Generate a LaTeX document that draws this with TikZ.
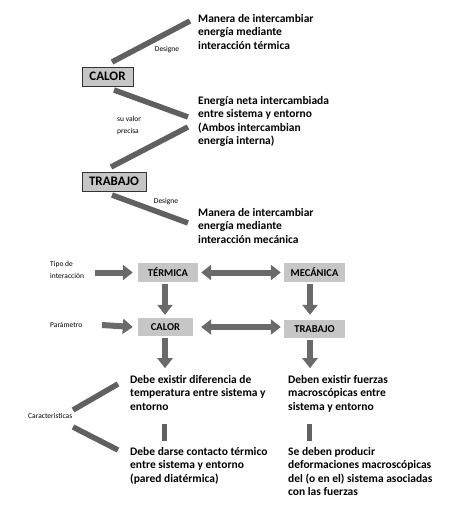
\documentclass[tikz,border=0pt]{standalone}
\usepackage{fontspec}
\setmainfont{Carlito}
\usetikzlibrary{arrows.meta}
\definecolor{lg}{HTML}{606060}
\definecolor{ag}{HTML}{6A6A6A}
\definecolor{bf}{HTML}{C6C6C6}
\tikzset{
  bar/.style={draw=lg,line width=5.5pt},
  txt/.style={anchor=north west,inner sep=0pt,align=left,font=\bfseries\fontsize{11.5}{13.5}\selectfont},
  lbl/.style={inner sep=0pt,align=left,font=\fontsize{7.5}{12}\selectfont},
  bigbox/.style={draw=black!80,fill=bf,line width=0.8pt,inner sep=0pt,font=\bfseries\fontsize{13}{15}\selectfont},
  gbox/.style={fill=bf,inner sep=0pt,font=\bfseries\fontsize{10.5}{12}\selectfont},
  arr/.style={draw=ag,line width=6pt,-{Triangle[width=15pt,length=10pt]}},
  darr/.style={draw=ag,line width=6pt,{Triangle[width=15pt,length=10pt]}-{Triangle[width=15pt,length=10pt]}},
}
\begin{document}
\begin{tikzpicture}[x=1pt,y=-1pt]
\useasboundingbox (0,0) rectangle (459,509);
% top part
\node[txt] (m1) at (198,14) {Manera de intercambiar\\energía mediante\\interacción térmica};
\node[bigbox,minimum width=51pt,minimum height=19pt] (calor1) at (107.5,76.5) {CALOR};
\node[lbl] (des1) at (167,50) {Designe};
\node[txt] (e1) at (198,96) {Energía neta intercambiada\\entre sistema y entorno\\(Ambos intercambian\\energía interna)};
\node[lbl,anchor=west] (suv) at (117,125) {su valor\\precisa};
\node[bigbox,minimum width=64pt,minimum height=19pt] (trab1) at (114,181.5) {TRABAJO};
\node[lbl] (des2) at (166,202) {Designe};
\node[txt] (m2) at (198,208) {Manera de intercambiar\\energía mediante\\interacción mecánica};
\coordinate (a1) at (112,62); \coordinate (b1) at (190,21);
\coordinate (a2) at (114,90); \coordinate (b2) at (188,117);
\coordinate (a3) at (188,127); \coordinate (b3) at (111,167);
\coordinate (a4) at (112,195); \coordinate (b4) at (188,223);
\draw[bar] (a1) -- (b1);
\draw[bar] (a2) -- (b2);
\draw[bar] (a3) -- (b3);
\draw[bar] (a4) -- (b4);
% lower part
\node[lbl,anchor=west] (tipo) at (50,270) {Tipo de\\interacción};
\node[gbox,minimum width=60pt,minimum height=19pt] (term) at (168,272.5) {TÉRMICA};
\node[gbox,minimum width=61pt,minimum height=19pt] (mec) at (314.5,272.5) {MECÁNICA};
\node[lbl,anchor=west] (par) at (50,325) {Parámetro};
\node[gbox,minimum width=55pt,minimum height=18pt] (calor2) at (165.5,327) {CALOR};
\node[gbox,minimum width=61pt,minimum height=18pt] (trab2) at (314.5,329) {TRABAJO};
\draw[arr] ([xshift=11pt]tipo.east |- term.west) -- ([xshift=-5pt]term.west);
\draw[arr] ([xshift=52pt]par.west) -- ([xshift=-5pt]calor2.west);
\draw[darr] ([xshift=3pt]term.east) -- ([xshift=-3pt]mec.west);
\draw[darr] ([xshift=8pt]calor2.east) -- ([xshift=-3pt]trab2.west |- calor2.east);
\draw[arr] ([xshift=-3pt,yshift=-2pt]term.south) -- ([xshift=-0.5pt,yshift=3pt]calor2.north);
\draw[arr] ([xshift=-4.5pt,yshift=-2pt]mec.south) -- ([xshift=-4.5pt,yshift=5pt]trab2.north);
\node[txt] (d1) at (130,375) {Debe existir diferencia de\\temperatura entre sistema y\\entorno};
\node[txt] (f1) at (288,375) {Deben existir fuerzas\\macroscópicas entre\\sistema y entorno};
\node[txt] (c1) at (130,447) {Debe darse contacto térmico\\entre sistema y entorno\\(pared diatérmica)};
\node[txt] (s1) at (288,447) {Se deben producir\\deformaciones macroscópicas\\del (o en el) sistema asociadas\\con las fuerzas};
\draw[arr] ([xshift=-0.5pt,yshift=-2pt]calor2.south) -- ([xshift=-0.5pt,yshift=-32pt]calor2.south);
\draw[arr] ([xshift=-4.5pt,yshift=-2pt]trab2.south) -- ([xshift=-4.5pt,yshift=-30pt]trab2.south);
\node[lbl,anchor=west] (car) at (28,416) {Caracteristicas};
\coordinate (l1a) at (73,410); \coordinate (l1b) at (118,384);
\coordinate (l2a) at (73,427); \coordinate (l2b) at (118,450);
\coordinate (v1a) at (164.5,424); \coordinate (v1b) at (164.5,441);
\coordinate (v2a) at (309.5,424); \coordinate (v2b) at (309.5,441);
\draw[bar] (l1a) -- (l1b);
\draw[bar] (l2a) -- (l2b);
\draw[draw=lg,line width=5pt] (v1a) -- (v1b);
\draw[draw=lg,line width=5pt] (v2a) -- (v2b);
\end{tikzpicture}
\end{document}
